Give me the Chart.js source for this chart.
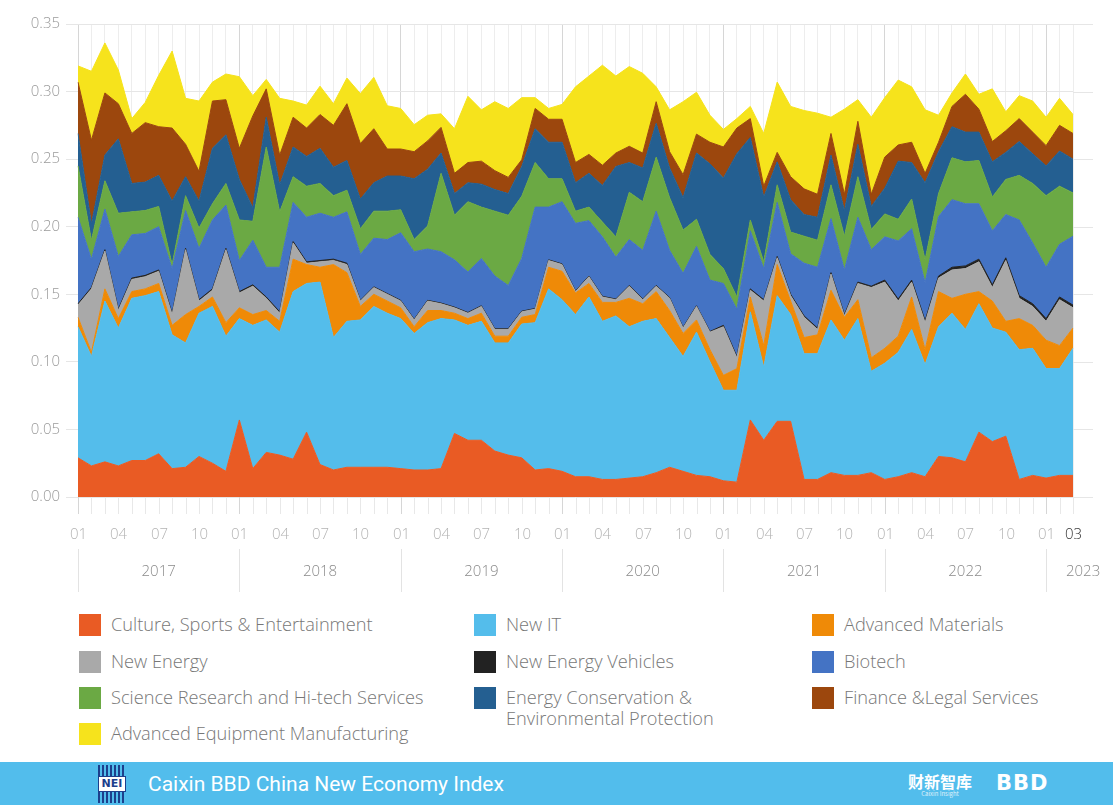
<!DOCTYPE html>
<html>
<head>
<meta charset="utf-8">
<script src="https://cdn.jsdelivr.net/npm/chart.js@4.4.0/dist/chart.umd.min.js"></script>
<style>
  body { margin: 0; background: #fff; width: 1113px; height: 805px; overflow: hidden; position: relative; font-family: 'Open Sans', sans-serif; }
  #chartBox { position: absolute; left: 0; top: 0; width: 1113px; height: 600px; }
  .item { position: absolute; display: flex; align-items: flex-start; font-weight: 300; font-size: 18.2px; line-height: 21px; color: #777; }
  .sw { width: 22px; height: 22px; margin-right: 10px; flex: none; }
  .col2 .txt { width: 230px; }
  #footer { position: absolute; left: 0; top: 762px; width: 1113px; height: 43px; background: #52bdec; }
  #title { position: absolute; left: 148px; top: 10px; color: #fff; font-family: Roboto, sans-serif; font-size: 21px; line-height: 24px; }
  #neiLogo { position: absolute; left: 98px; top: 3px; width: 28px; height: 38px;
             background: repeating-linear-gradient(90deg, #1d3f8c 0 2px, transparent 2px 4px); }
  #neiLogo span { position: absolute; left: 0; top: 11px; width: 26px; height: 14px; background: #fff; border: 1px solid #1d3f8c;
                  color: #1d3f8c; font: bold 11px/14px 'DejaVu Sans', sans-serif; text-align: center; }
  #caixin { position: absolute; left: 908px; top: 9px; color: #fff; font-family: 'Noto Sans CJK SC', sans-serif; font-weight: 700; font-size: 16px; line-height: 20px; }
  #caixin small { display: block; font-size: 6px; line-height: 6px; text-align: center; font-weight: 400; opacity: 0.8; }
  #bbd { position: absolute; left: 996px; top: 10px; color: #fff; font-family: 'DejaVu Sans', sans-serif; font-weight: 900; font-size: 21px; line-height: 22px; letter-spacing: 1px; }
</style>
</head>
<body>
<div id="chartBox"><canvas id="neiChart" width="1113" height="600"></canvas></div>
<div id="legend"></div>
<div id="footer">
  <div id="neiLogo"><span>NEI</span></div>
  <div id="title">Caixin BBD China New Economy Index</div>
  <div id="caixin">财新智库<small>Caixin Insight</small></div>
  <div id="bbd">BBD</div>
</div>
<script>
// categories / tick labels
const years = ['2017', '2018', '2019', '2020', '2021', '2022', '2023'];
const tickMonths = ['01', '04', '07', '10'];
const lastMonth = '03';

// series values, Jan 2017 .. Mar 2023 (stacked shares)
const culture = [
  .029, .023, .026, .023, .027, .027, .032, .021, .022, .030, .025, .019,
  .057, .021, .033, .031, .028, .048, .024, .020, .022, .022, .022, .022,
  .021, .020, .020, .021, .047, .042, .042, .034, .031, .029, .020, .021,
  .019, .015, .015, .013, .013, .014, .015, .018, .022, .019, .016, .015,
  .012, .011, .057, .042, .056, .056, .013, .013, .018, .016, .016, .018,
  .013, .015, .018, .015, .030, .029, .026, .048, .041, .045, .013, .016,
  .014, .016, .016];
const newIT = [
  .097, .081, .119, .102, .120, .122, .120, .099, .092, .106, .116, .100,
  .075, .106, .098, .091, .124, .110, .135, .098, .108, .109, .119, .114,
  .111, .101, .109, .111, .084, .085, .088, .080, .083, .099, .109, .133,
  .127, .120, .133, .117, .121, .112, .115, .114, .096, .085, .106, .085,
  .067, .068, .080, .054, .093, .079, .093, .093, .113, .100, .116, .075,
  .086, .092, .106, .083, .096, .107, .098, .095, .084, .077, .096, .094,
  .081, .079, .094];
const advMaterials = [
  .007, .003, .009, .007, .005, .005, .006, .007, .021, .005, .007, .010,
  .008, .008, .007, .008, .024, .014, .011, .054, .036, .010, .009, .009,
  .008, .005, .009, .006, .005, .005, .006, .005, .005, .005, .006, .016,
  .021, .016, .010, .014, .010, .021, .013, .020, .020, .017, .009, .009,
  .011, .016, .011, .016, .023, .010, .012, .014, .022, .017, .014, .010,
  .011, .012, .024, .011, .026, .011, .026, .009, .020, .008, .023, .017,
  .021, .017, .015];
const newEnergy = [
  .009, .047, .028, .006, .009, .009, .009, .008, .048, .004, .005, .054,
  .011, .021, .009, .006, .012, .001, .004, .003, .006, .004, .005, .005,
  .005, .005, .007, .005, .004, .004, .005, .005, .005, .004, .004, .005,
  .005, .001, .005, .004, .002, .009, .003, .004, .009, .004, .010, .013,
  .036, .008, .005, .033, .005, .004, .015, .004, .012, .001, .012, .052,
  .049, .026, .011, .020, .010, .021, .019, .022, .010, .045, .015, .014,
  .014, .034, .015];
const newEnergyVehicles = [
  .001, .001, .001, .001, .001, .001, .001, .001, .001, .001, .001, .001,
  .001, .001, .001, .001, .001, .001, .001, .001, .001, .0005, .0005, .0005,
  .0005, .0005, .0005, .0005, .0005, .0005, .0005, .0005, .0005, .0005, .0005, .0005,
  .0005, .0005, .0005, .0005, .0005, .0005, .0005, .0005, .0005, .0005, .0005, .0005,
  .001, .001, .001, .001, .001, .001, .001, .001, .001, .001, .001, .001,
  .0015, .0015, .0015, .0015, .0015, .002, .002, .002, .002, .002, .002, .002,
  .002, .002, .002];
const biotech = [
  .064, .021, .030, .039, .032, .031, .032, .033, .028, .038, .051, .032,
  .023, .033, .022, .033, .029, .033, .035, .031, .038, .034, .036, .040,
  .050, .050, .038, .038, .035, .030, .035, .039, .032, .039, .075, .039,
  .046, .050, .041, .044, .031, .034, .036, .055, .035, .040, .044, .038,
  .031, .035, .043, .023, .040, .030, .039, .045, .040, .033, .048, .027,
  .032, .043, .038, .028, .044, .050, .046, .041, .040, .032, .056, .045,
  .038, .039, .051];
const scienceResearch = [
  .038, .014, .021, .032, .017, .017, .015, .003, .011, .015, .012, .016,
  .030, .014, .089, .041, .019, .023, .022, .016, .016, .019, .020, .021,
  .017, .009, .017, .058, .033, .052, .038, .048, .052, .046, .033, .021,
  .017, .009, .010, .011, .015, .035, .036, .040, .039, .032, .020, .019,
  .011, .009, .008, .005, .013, .016, .020, .020, .025, .025, .030, .015,
  .017, .016, .022, .017, .017, .031, .031, .032, .025, .026, .033, .044,
  .053, .043, .032];
const energyConservation = [
  .024, .012, .019, .055, .021, .021, .023, .047, .014, .020, .041, .036,
  .030, .010, .022, .020, .022, .022, .026, .021, .022, .022, .021, .026,
  .025, .045, .042, .015, .016, .014, .017, .016, .016, .022, .025, .027,
  .027, .021, .025, .027, .052, .022, .025, .025, .022, .024, .049, .067,
  .067, .106, .061, .048, .017, .024, .016, .017, .022, .019, .024, .017,
  .019, .043, .027, .057, .031, .023, .022, .021, .026, .020, .025, .022,
  .022, .026, .025];
const financeLegal = [
  .038, .062, .046, .026, .037, .044, .036, .054, .024, .022, .035, .026,
  .023, .068, .021, .022, .022, .021, .025, .031, .042, .041, .040, .020,
  .020, .020, .021, .019, .015, .015, .017, .014, .012, .005, .015, .017,
  .017, .015, .014, .015, .010, .012, .011, .016, .012, .017, .014, .016,
  .023, .019, .014, .008, .007, .017, .019, .017, .016, .012, .017, .009,
  .023, .012, .015, .007, .007, .015, .028, .017, .015, .016, .017, .016,
  .015, .019, .019];
const advEquipment = [
  .012, .051, .037, .025, .011, .015, .038, .057, .034, .052, .014, .019,
  .053, .015, .007, .042, .012, .017, .021, .016, .019, .037, .038, .032,
  .030, .020, .019, .010, .033, .049, .038, .051, .051, .046, .008, .008,
  .011, .056, .058, .074, .057, .059, .059, .011, .031, .054, .031, .020,
  .013, .007, .009, .039, .052, .052, .058, .060, .012, .063, .016, .057,
  .044, .048, .041, .047, .020, .010, .015, .011, .039, .014, .017, .023,
  .021, .020, .014];

const seriesNames = [
  'Culture, Sports & Entertainment', 'New IT', 'Advanced Materials',
  'New Energy', 'New Energy Vehicles', 'Biotech',
  'Science Research and Hi-tech Services', 'Energy Conservation & Environmental Protection', 'Finance &Legal Services',
  'Advanced Equipment Manufacturing'];
const seriesData = [culture, newIT, advMaterials, newEnergy, newEnergyVehicles, biotech,
  scienceResearch, energyConservation, financeLegal, advEquipment];
const seriesColors = ['#e95b24', '#54bdeb', '#ef8a07', '#a9a9a9', '#222222', '#4473c4',
  '#6ba944', '#245f91', '#9c470d', '#f6e31c'];

// month labels
const labels = [];
years.forEach((yr) => {
  for (let m = 1; m <= 12; m++) {
    const mm = String(m).padStart(2, '0');
    if (yr === years[years.length - 1] && mm > lastMonth) break;
    labels.push(yr + '-' + mm);
  }
});
const lastIdx = labels.length - 1;

Chart.defaults.font.family = "'Open Sans', sans-serif";
Chart.defaults.font.weight = 300;

function monthLabel(i) {
  const mm = labels[i].slice(5);
  if (i === lastIdx) return mm;
  return tickMonths.includes(mm) && i < lastIdx - 1 ? mm : '';
}

// month ticks, year row, gridline stubs on the right
const axisExtras = {
  id: 'axisExtras',
  afterDraw(chart) {
    const { ctx, chartArea } = chart;
    const x = chart.scales.x;
    const y = chart.scales.y;
    ctx.save();
    ctx.lineWidth = 1;

    // horizontal grid stubs past the plot
    ctx.strokeStyle = '#e6e6e6';
    y.ticks.forEach((t) => {
      const py = Math.round(y.getPixelForValue(t.value)) + 0.5;
      ctx.beginPath();
      ctx.moveTo(chartArea.right, py);
      ctx.lineTo(chartArea.right + 20, py);
      ctx.stroke();
    });

    // month tick marks and labels
    ctx.font = "300 15px 'Open Sans', sans-serif";
    ctx.textAlign = 'center';
    ctx.textBaseline = 'middle';
    labels.forEach((lab, i) => {
      const px = Math.round(x.getPixelForValue(i)) + 0.5;
      ctx.strokeStyle = i % 12 === 0 ? '#d6d6d6' : '#e8e8e8';
      ctx.beginPath();
      ctx.moveTo(px, chartArea.bottom);
      ctx.lineTo(px, chartArea.bottom + 17);
      ctx.stroke();
      const txt = monthLabel(i);
      if (txt) {
        ctx.fillStyle = i === lastIdx ? '#333333' : '#b3b3b3';
        ctx.fillText(txt, px, 535);
      }
    });

    // year row
    ctx.fillStyle = '#8a8a8a';
    ctx.strokeStyle = '#e3e3e3';
    years.forEach((yr, k) => {
      const start = x.getPixelForValue(k * 12);
      const end = k * 12 + 12 <= lastIdx ? x.getPixelForValue(k * 12 + 12) : start + 74;
      ctx.beginPath();
      ctx.moveTo(Math.round(start) + 0.5, 549);
      ctx.lineTo(Math.round(start) + 0.5, 592);
      ctx.stroke();
      ctx.fillText(yr, (start + end) / 2, 572);
    });
    ctx.restore();
  },
};

const ctx = document.getElementById('neiChart').getContext('2d');
const chart = new Chart(ctx, {
  type: 'line',
  data: {
    labels: labels,
    datasets: seriesNames.map((name, k) => ({
      label: name,
      data: seriesData[k],
      backgroundColor: seriesColors[k],
      borderColor: seriesColors[k],
      borderWidth: 1,
      pointRadius: 0,
      tension: 0,
      fill: k === 0 ? 'origin' : '-1',
    })),
  },
  options: {
    responsive: false,
    animation: false,
    layout: { padding: { top: 24, right: 40, left: 0, bottom: 0 } },
    plugins: { legend: { display: false }, tooltip: { enabled: false } },
    scales: {
      x: {
        stacked: true,
        border: { display: false },
        grid: {
          color: (c) => (c.index % 12 === 0 ? '#d6d6d6' : '#ededed'),
          drawTicks: false,
        },
        ticks: { display: false, autoSkip: false, maxRotation: 0 },
        afterFit: (s) => { s.height = 103; },
      },
      y: {
        stacked: true,
        min: 0,
        max: 0.35,
        border: { display: false },
        grid: { color: '#e6e6e6', tickLength: 12 },
        ticks: {
          stepSize: 0.05,
          padding: 6,
          font: { size: 15, weight: 300 },
          color: '#9a9a9a',
          callback: (v) => Number(v).toFixed(2),
        },
        afterFit: (s) => { s.width = 78; },
      },
    },
  },
  plugins: [axisExtras],
});

// legend, 3 columns
const legendCols = [79, 474, 812];
const legendRows = [614, 650.5, 687, 723];
const legendBox = document.getElementById('legend');
seriesNames.forEach((name, k) => {
  const item = document.createElement('div');
  item.className = 'item col' + ((k % 3) + 1);
  item.style.left = legendCols[k % 3] + 'px';
  item.style.top = legendRows[Math.floor(k / 3)] + 'px';
  item.innerHTML = '<div class="sw" style="background:' + seriesColors[k] + '"></div><div class="txt">' +
    name.replace(/&/g, '&amp;') + '</div>';
  legendBox.appendChild(item);
});
</script>
</body>
</html>
